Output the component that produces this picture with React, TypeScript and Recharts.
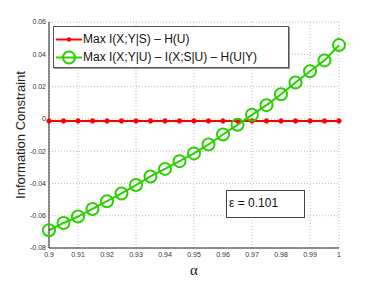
import React from "react";
import { LineChart, Line, XAxis, YAxis, CartesianGrid, Label } from "recharts";

const alpha = [
  0.9, 0.905, 0.91, 0.915, 0.92, 0.925, 0.93, 0.935, 0.94, 0.945, 0.95,
  0.955, 0.96, 0.965, 0.97, 0.975, 0.98, 0.985, 0.99, 0.995, 1,
];
const maxIXYS = [
  -0.0013, -0.0013, -0.0013, -0.0013, -0.0013, -0.0013, -0.0013, -0.0013, -0.0013, -0.0013, -0.0013,
  -0.0013, -0.0013, -0.0013, -0.0013, -0.0013, -0.0013, -0.0013, -0.0013, -0.0013, -0.0013,
];
const maxIXYU = [
  -0.069, -0.0645, -0.0605, -0.0558, -0.051, -0.0462, -0.041, -0.0357, -0.031, -0.0262, -0.0214,
  -0.0159, -0.0097, -0.0037, 0.0025, 0.0085, 0.0152, 0.0225, 0.0295, 0.0362, 0.0457,
];
const xTicks = [0.9, 0.91, 0.92, 0.93, 0.94, 0.95, 0.96, 0.97, 0.98, 0.99, 1];
const yTicks = [-0.08, -0.06, -0.04, -0.02, 0, 0.02, 0.04, 0.06];
const legendNames = ["Max I(X;Y|S) \u2013 H(U)", "Max I(X;Y|U) \u2013 I(X;S|U) \u2013 H(U|Y)"];

const RED = "#ff0000";
const GREEN = "#2ad000";
const FONT = "'Liberation Sans', Arial, sans-serif";

const data = alpha.map((a, i) => ({ alpha: a, red: maxIXYS[i], green: maxIXYU[i] }));

const fmt = (v: number) => String(Math.round(v * 100) / 100);
const blank = () => "";

export default function App() {
  return (
    <div style={{ position: "absolute", left: 0, top: 0, width: 374, height: 281, background: "#fff", fontFamily: FONT }}>
      <LineChart width={374} height={281} data={data} margin={{ top: 22, right: 35, bottom: 0, left: 0 }}>
        <CartesianGrid xAxisId="main" yAxisId="main" stroke="#bdbdbd" strokeDasharray="1 2" />
        <XAxis
          xAxisId="main"
          dataKey="alpha"
          type="number"
          domain={[0.9, 1]}
          ticks={xTicks}
          tickFormatter={fmt}
          height={33}
          tickLine={false}
          tickSize={0}
          tickMargin={4}
          axisLine={{ stroke: "#222" }}
          tick={{ fontSize: 7, fill: "#333", fontFamily: FONT }}
        >
          <Label
            content={({ viewBox }: any) => (
              <text x={viewBox.x + viewBox.width / 2} y={viewBox.y + 27} textAnchor="middle" fontSize={15} fontFamily="'Liberation Serif', serif" fill="#222">
                α
              </text>
            )}
          />
        </XAxis>
        <XAxis xAxisId="top" orientation="top" type="number" domain={[0.9, 1]} ticks={xTicks} height={0} mirror tickFormatter={blank} tickSize={4} tickLine={{ stroke: "#333" }} axisLine={{ stroke: "#444" }} />
        <XAxis xAxisId="bm" orientation="bottom" type="number" domain={[0.9, 1]} ticks={xTicks} height={0} mirror tickFormatter={blank} tickSize={4} tickLine={{ stroke: "#333" }} axisLine={false} />
        <YAxis
          yAxisId="main"
          type="number"
          domain={[-0.08, 0.06]}
          ticks={yTicks}
          tickFormatter={fmt}
          width={49}
          tickLine={false}
          tickSize={0}
          tickMargin={3}
          axisLine={{ stroke: "#222" }}
          tick={{ fontSize: 7, fill: "#333", fontFamily: FONT }}
        >
          <Label
            content={({ viewBox }: any) => {
              const cx = 20;
              const cy = viewBox.y + viewBox.height / 2;
              return (
                <text x={cx} y={cy} transform={`rotate(-90, ${cx}, ${cy})`} textAnchor="middle" dominantBaseline="central" fontSize={13} fontFamily={FONT} fill="#222">
                  Information Constraint
                </text>
              );
            }}
          />
        </YAxis>
        <YAxis yAxisId="lm" type="number" domain={[-0.08, 0.06]} ticks={yTicks} width={0} mirror tickFormatter={blank} tickSize={4} tickLine={{ stroke: "#333" }} axisLine={false} />
        <YAxis yAxisId="r" orientation="right" type="number" domain={[-0.08, 0.06]} ticks={yTicks} width={0} mirror tickFormatter={blank} tickSize={4} tickLine={{ stroke: "#333" }} axisLine={{ stroke: "#8a8a8a", strokeWidth: 1.5 }} />
        <Line
          xAxisId="main"
          yAxisId="main"
          dataKey="red"
          stroke={RED}
          strokeWidth={2}
          dot={{ r: 2.2, fill: RED, stroke: RED, strokeWidth: 1 }}
          isAnimationActive={false}
        />
        <Line
          xAxisId="main"
          yAxisId="main"
          dataKey="green"
          stroke={GREEN}
          strokeWidth={2}
          dot={{ r: 6, fill: "none", stroke: GREEN, strokeWidth: 2 }}
          isAnimationActive={false}
        />
      </LineChart>
      <div
        style={{
          position: "absolute",
          left: 53,
          top: 26,
          width: 234,
          height: 40,
          border: "1px solid #555",
          boxShadow: "1px 1px 0 #999",
          background: "#fff",
        }}
      >
        {legendNames.map((name, i) => (
          <div key={name} style={{ position: "absolute", left: 1, top: i === 0 ? 4 : 22, height: 17, display: "flex", alignItems: "center" }}>
            <svg width={28} height={17}>
              <line x1={1} y1={8.5} x2={27} y2={8.5} stroke={i === 0 ? RED : GREEN} strokeWidth={2} />
              {i === 0 ? (
                <circle cx={14} cy={8.5} r={2.2} fill={RED} />
              ) : (
                <circle cx={14} cy={8.5} r={6} fill="none" stroke={GREEN} strokeWidth={2} />
              )}
            </svg>
            <span style={{ fontSize: 12, color: "#111", whiteSpace: "nowrap", lineHeight: "17px" }}>{name}</span>
          </div>
        ))}
      </div>
      <div
        style={{
          position: "absolute",
          left: 226,
          top: 190,
          width: 79,
          height: 28,
          border: "1px solid #444",
          background: "#fff",
          fontSize: 12,
          lineHeight: "14px",
          paddingLeft: 2,
          paddingTop: 5,
          boxSizing: "border-box",
          color: "#111",
        }}
      >
        ε = 0.101
      </div>
    </div>
  );
}
